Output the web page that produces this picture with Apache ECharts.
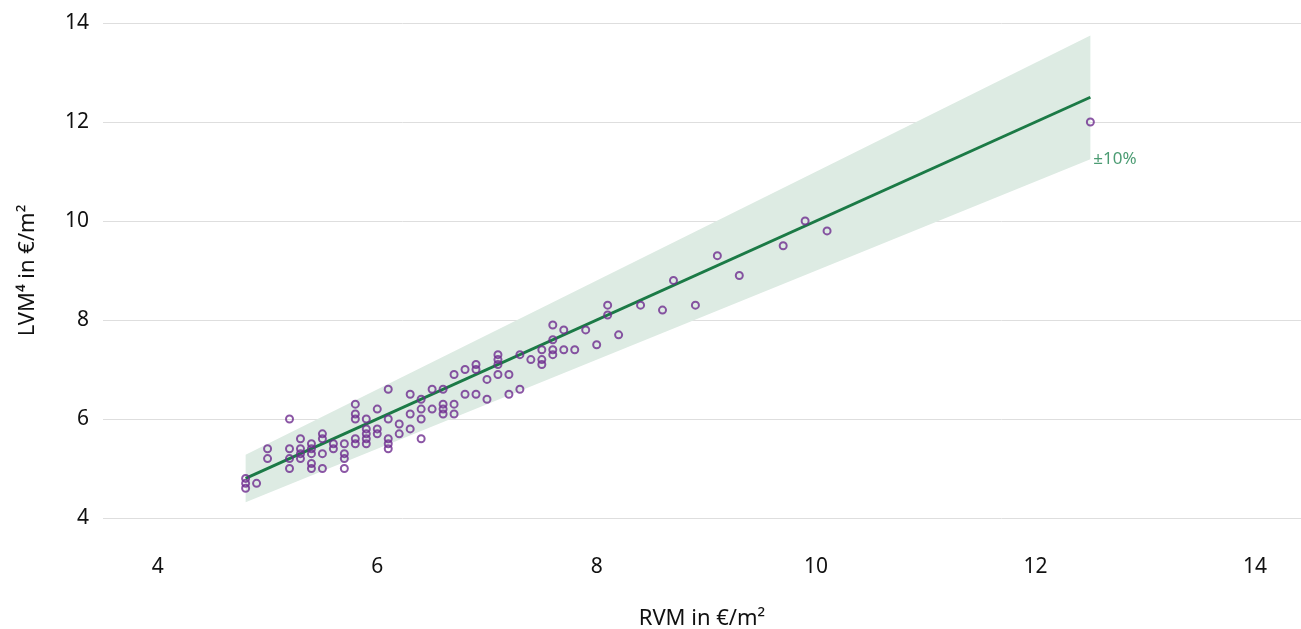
<!DOCTYPE html>
<html>
<head>
<meta charset="utf-8">
<title>RVM vs LVM</title>
<script src="https://cdn.jsdelivr.net/npm/echarts@6/dist/echarts.min.js"></script>
<style>
  html, body { margin: 0; padding: 0; background: #fff; }
  #chart { width: 1301px; height: 629px; }
</style>
</head>
<body>
<div id="chart"></div>
<script>
  // RVM (x) and LVM (y) per building, in €/m²
  const rvm = [
    4.8, 4.8, 4.8, 4.9, 5.0, 5.0,
    5.2, 5.2, 5.2, 5.2, 5.3, 5.3, 5.3, 5.3,
    5.4, 5.4, 5.4, 5.4, 5.4, 5.5, 5.5, 5.5, 5.5,
    5.6, 5.6, 5.7, 5.7, 5.7, 5.7,
    5.8, 5.8, 5.8, 5.8, 5.8, 5.9, 5.9, 5.9, 5.9, 5.9,
    6.0, 6.0, 6.0, 6.1, 6.1, 6.1, 6.1, 6.1,
    6.2, 6.2, 6.3, 6.3, 6.3, 6.4, 6.4, 6.4, 6.4,
    6.5, 6.5, 6.6, 6.6, 6.6, 6.6, 6.7, 6.7, 6.7,
    6.8, 6.8, 6.9, 6.9, 6.9, 7.0, 7.0,
    7.1, 7.1, 7.1, 7.1, 7.2, 7.2, 7.3, 7.3, 7.4,
    7.5, 7.5, 7.5, 7.6, 7.6, 7.6, 7.6, 7.7, 7.7,
    7.8, 7.9, 8.0, 8.1, 8.1, 8.2, 8.4, 8.6, 8.7, 8.9,
    9.1, 9.3, 9.7, 9.9, 10.1, 12.5
  ]
  const lvm = [
    4.8, 4.7, 4.6, 4.7, 5.4, 5.2,
    6.0, 5.4, 5.2, 5.0, 5.6, 5.4, 5.3, 5.2,
    5.5, 5.4, 5.3, 5.1, 5.0, 5.7, 5.6, 5.3, 5.0,
    5.5, 5.4, 5.5, 5.3, 5.2, 5.0,
    6.3, 6.1, 6.0, 5.6, 5.5, 6.0, 5.8, 5.7, 5.6, 5.5,
    6.2, 5.8, 5.7, 6.6, 6.0, 5.6, 5.5, 5.4,
    5.9, 5.7, 6.5, 6.1, 5.8, 6.4, 6.2, 6.0, 5.6,
    6.6, 6.2, 6.6, 6.3, 6.2, 6.1, 6.9, 6.3, 6.1,
    7.0, 6.5, 7.1, 7.0, 6.5, 6.8, 6.4,
    7.3, 7.2, 7.1, 6.9, 6.9, 6.5, 7.3, 6.6, 7.2,
    7.4, 7.2, 7.1, 7.9, 7.6, 7.4, 7.3, 7.8, 7.4,
    7.4, 7.8, 7.5, 8.3, 8.1, 7.7, 8.3, 8.2, 8.8, 8.3,
    9.3, 8.9, 9.5, 10.0, 9.8, 12.0
  ]

  // reference line LVM = RVM with a ±10 % band
  const fitX = [4.8, 12.5]
  const fitY = [4.8, 12.5]
  const bandPct = 10

  const xTicks = [4, 6, 8, 10, 12, 14]

  const points = rvm.map((x, i) => [x, lvm[i]])
  const fitLine = fitX.map((x, i) => [x, fitY[i]])
  const upper = fitX.map((x, i) => [x, fitY[i] * (1 + bandPct / 100)])
  const lower = fitX.map((x, i) => [x, fitY[i] * (1 - bandPct / 100)])

  const font = '"Noto Sans", sans-serif'
  const green = '#1b7a46'

  const chart = echarts.init(document.getElementById('chart'))
  chart.setOption({
    animation: false,
    grid: { left: 103, right: 0, top: 23, bottom: 111, outerBoundsMode: 'none', containLabel: false },
    xAxis: {
      type: 'value',
      min: 3.5,
      max: 14.42,
      name: 'RVM in €/m²',
      nameLocation: 'middle',
      nameGap: 90,
      nameTextStyle: { fontFamily: font, fontSize: 22, color: '#111' },
      axisLine: { show: false },
      axisTick: { show: false },
      splitLine: { show: false },
      axisLabel: {
        customValues: xTicks,
        margin: 39,
        fontFamily: font,
        fontSize: 21,
        color: '#111'
      }
    },
    yAxis: {
      type: 'value',
      min: 4,
      max: 14,
      interval: 2,
      name: 'LVM⁴ in €/m²',
      nameLocation: 'middle',
      nameGap: 64,
      nameTextStyle: { fontFamily: font, fontSize: 22, color: '#111' },
      axisLine: { show: false },
      axisTick: { show: false },
      splitLine: { lineStyle: { color: '#dedede', width: 1 } },
      axisLabel: { margin: 14, fontFamily: font, fontSize: 21, color: '#111' }
    },
    series: [
      {
        name: 'band',
        type: 'custom',
        data: upper,
        silent: true,
        z: 1,
        renderItem(params, api) {
          if (params.dataIndex !== 0) return
          const poly = upper.concat(lower.slice().reverse()).map(p => api.coord(p))
          return {
            type: 'polygon',
            shape: { points: poly },
            style: { fill: '#ddebe3' }
          }
        }
      },
      {
        name: 'fit',
        type: 'line',
        data: fitLine,
        symbol: 'none',
        z: 2,
        lineStyle: { color: green, width: 3 }
      },
      {
        name: 'bandLabel',
        type: 'scatter',
        data: [lower[lower.length - 1]],
        symbolSize: 0,
        z: 3,
        label: {
          show: true,
          position: 'right',
          distance: 3,
          formatter: '±' + bandPct + '%',
          fontFamily: font,
          fontSize: 17,
          color: '#1f8350'
        }
      },
      {
        name: 'buildings',
        type: 'scatter',
        data: points,
        symbol: 'circle',
        symbolSize: 7,
        z: 4,
        itemStyle: {
          color: 'rgba(0,0,0,0)',
          borderColor: '#6e2c8e',
          borderWidth: 2
        }
      }
    ]
  })
</script>
</body>
</html>
